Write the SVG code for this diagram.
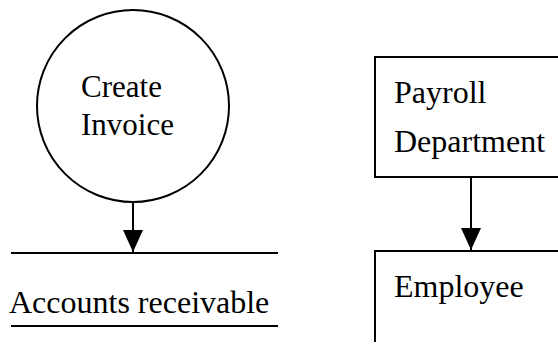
<svg xmlns="http://www.w3.org/2000/svg" width="558" height="345" viewBox="0 0 558 345">
  <style>
    .shape { fill: none; stroke: #000; stroke-width: 2; }
    .lbl { font-family: "Liberation Serif", "Times New Roman", serif; font-size: 32px; fill: #000; }
    .lbl.small { font-size: 31px; }
    .conn { stroke: #000; stroke-width: 2; fill: none; }
  </style>
  <defs>
    <marker id="arrow" viewBox="0 0 22 20" refX="22" refY="10" markerWidth="22" markerHeight="20" orient="auto" markerUnits="userSpaceOnUse">
      <path d="M0,0 L22,10 L0,20 Z" fill="#000"/>
    </marker>
  </defs>
  <rect width="558" height="345" fill="#fff"/>
  <g id="create-invoice">
    <circle class="shape" cx="133" cy="106" r="96"/>
    <text class="lbl small" x="81" y="97">Create</text>
    <text class="lbl small" x="81" y="135">Invoice</text>
  </g>
  <g id="accounts-receivable">
    <line class="shape" x1="11" y1="253" x2="278" y2="253"/>
    <text class="lbl" x="9" y="313">Accounts receivable</text>
    <line class="shape" x1="11" y1="326" x2="278" y2="326"/>
  </g>
  <g id="payroll-department">
    <path class="shape" d="M560,57 H375 V177 H560"/>
    <text class="lbl" x="394" y="103">Payroll</text>
    <text class="lbl" x="394" y="152">Department</text>
  </g>
  <g id="employee">
    <path class="shape" d="M560,251 H375 V342"/>
    <text class="lbl" x="394" y="297">Employee</text>
  </g>
  <g id="connectors">
    <line class="conn" x1="133" y1="202" x2="133" y2="252" marker-end="url(#arrow)"/>
    <line class="conn" x1="471" y1="177" x2="471" y2="250" marker-end="url(#arrow)"/>
  </g>
</svg>
